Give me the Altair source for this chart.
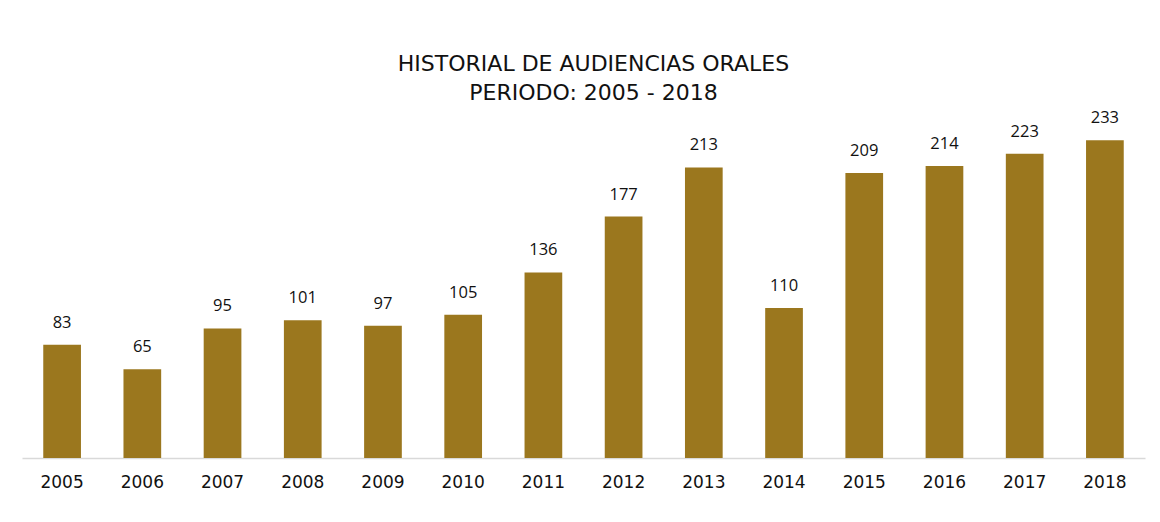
import altair as alt
import pandas as pd

years = ["2005", "2006", "2007", "2008", "2009", "2010", "2011",
         "2012", "2013", "2014", "2015", "2016", "2017", "2018"]
audiencias = [83, 65, 95, 101, 97, 105, 136, 177, 213, 110, 209, 214, 223, 233]

df = pd.DataFrame({"year": years, "value": audiencias})

FONT = "Open Sans"
WIDE = "DejaVu Sans"
BAR = "#9B771E"

x = alt.X("year:N", sort=years, title=None,
          scale=alt.Scale(paddingInner=0.53, paddingOuter=0.265),
          axis=alt.Axis(labelAngle=0, ticks=False, labelPadding=16,
                        labelFont=WIDE, labelFontSize=17, labelColor="#111111",
                        domainColor="#d9d9d9", domainWidth=1.5))
y = alt.Y("value:Q", title=None, scale=alt.Scale(domain=[0, 250], nice=False),
          axis=None)

bars = alt.Chart(df).mark_bar(color=BAR).encode(x=x, y=y)
labels = alt.Chart(df).mark_text(baseline="bottom", dy=-14, font=FONT,
                                 fontSize=16.5, color="#111111").encode(
    x=alt.X("year:N", sort=years), y="value:Q", text="value:Q")

chart = alt.layer(bars, labels).properties(
    width=1123, height=341,
    background="white",
    title=alt.TitleParams(
        text=["HISTORIAL DE AUDIENCIAS ORALES", "PERIODO: 2005 - 2018"],
        font=WIDE, fontSize=22, fontWeight="normal", color="#111111",
        anchor="middle", frame="group", offset=5, lineHeight=29, dx=10),
    autosize=alt.AutoSizeParams(type="none"),
    padding={"left": 14, "top": 109, "right": 7, "bottom": 50},
).configure_view(strokeWidth=0, stroke=None)

chart.save("out.html", embed_options={"renderer": "svg", "actions": False})
